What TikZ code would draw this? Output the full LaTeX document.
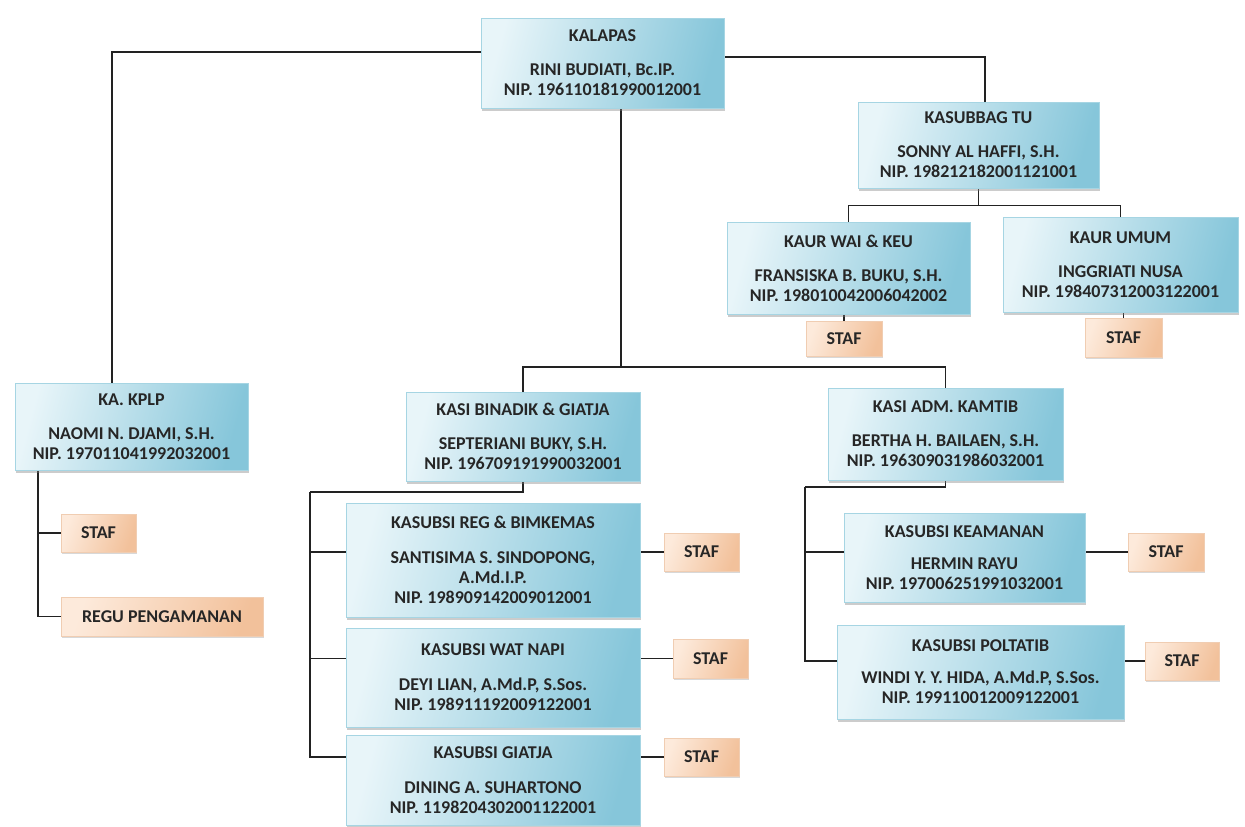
\documentclass[tikz,border=0pt]{standalone}
\usepackage{fontspec}
\setmainfont{Carlito}
\usetikzlibrary{shadows}
\definecolor{blueL}{HTML}{E8F5F9}
\definecolor{blueR}{HTML}{86C6DA}
\definecolor{blueB}{HTML}{A6D5E3}
\definecolor{peachL}{HTML}{FDEADB}
\definecolor{peachR}{HTML}{F2C19B}
\definecolor{peachB}{HTML}{F0CDB2}
\definecolor{txt}{HTML}{262626}
\definecolor{ln}{HTML}{222222}
\pgfdeclarelayer{bg}
\pgfsetlayers{bg,main}
\begin{document}
\begin{tikzpicture}[x=1pt,y=-1pt,
  orgbox/.style={rectangle, draw=blueB, line width=0.6pt, left color=blueL, right color=blueR, shading angle=75,
    align=center, text=txt, font=\fontsize{18}{20}\selectfont\bfseries, inner sep=0pt,
    drop shadow={shadow xshift=1pt, shadow yshift=-2.5pt, opacity=0.4, fill=gray}},
  stafbox/.style={rectangle, draw=peachB, line width=0.6pt, left color=peachL, right color=peachR, shading angle=70,
    align=center, text=txt, font=\fontsize{18}{20}\selectfont\bfseries, inner sep=0pt,
    drop shadow={shadow xshift=1pt, shadow yshift=-2pt, opacity=0.3, fill=gray}},
  conn/.style={draw=ln, line width=1.6pt}]
\useasboundingbox (0,0) rectangle (1245,827);
\begin{pgfonlayer}{bg}
\fill[white] (0,0) rectangle (1245,827);
\end{pgfonlayer}

% top
\node[orgbox, minimum width=243pt, minimum height=90pt] (kal) at (602.5,63) {KALAPAS\\[14pt]RINI BUDIATI, Bc.IP.\\NIP. 196110181990012001};
\node[orgbox, minimum width=241pt, minimum height=86pt] (tu) at (978.5,145) {KASUBBAG TU\\[14pt]SONNY AL HAFFI, S.H.\\NIP. 198212182001121001};
\node[orgbox, minimum width=243pt, minimum height=92pt] (wai) at (848.5,268) {KAUR WAI \& KEU\\[14pt]FRANSISKA B. BUKU, S.H.\\NIP. 198010042006042002};
\node[orgbox, minimum width=235pt, minimum height=95pt] (umum) at (1120.5,264.5) {KAUR UMUM\\[14pt]INGGRIATI NUSA\\NIP. 198407312003122001};
\node[stafbox, minimum width=76pt, minimum height=35pt] (staf1) at (844,338.5) {STAF};
\node[stafbox, minimum width=77pt, minimum height=39pt] (staf2) at (1123.5,337.5) {STAF};

% KPLP
\node[orgbox, minimum width=233pt, minimum height=87pt] (kplp) at (131.5,426.5) {KA. KPLP\\[14pt]NAOMI N. DJAMI, S.H.\\NIP. 197011041992032001};
\node[stafbox, minimum width=75pt, minimum height=38pt] (kstaf) at (98.5,533) {STAF};
\node[stafbox, minimum width=202pt, minimum height=39pt] (regu) at (162,616.5) {REGU PENGAMANAN};

% BINADIK
\node[orgbox, minimum width=234pt, minimum height=89pt] (binadik) at (523,436.5) {KASI BINADIK \& GIATJA\\[14pt]SEPTERIANI BUKY, S.H.\\NIP. 196709191990032001};
\node[orgbox, minimum width=294pt, minimum height=114pt] (reg) at (493,560) {KASUBSI REG \& BIMKEMAS\\[15pt]SANTISIMA S. SINDOPONG,\\A.Md.I.P.\\NIP. 198909142009012001};
\node[orgbox, minimum width=294pt, minimum height=99pt] (wat) at (493,677.5) {KASUBSI WAT NAPI\\[15pt]DEYI LIAN, A.Md.P, S.Sos.\\NIP. 198911192009122001};
\node[orgbox, minimum width=294pt, minimum height=90pt] (giat) at (493,780) {KASUBSI GIATJA\\[15pt]DINING A. SUHARTONO\\NIP. 1198204302001122001};
\node[stafbox, minimum width=75pt, minimum height=38pt] (stafR) at (701.5,552) {STAF};
\node[stafbox, minimum width=75pt, minimum height=39pt] (stafW) at (710.5,658.5) {STAF};
\node[stafbox, minimum width=75pt, minimum height=38pt] (stafG) at (701.5,757) {STAF};

% ADM
\node[orgbox, minimum width=235pt, minimum height=92pt] (adm) at (945.5,434) {KASI ADM. KAMTIB\\[14pt]BERTHA H. BAILAEN, S.H.\\NIP. 196309031986032001};
\node[orgbox, minimum width=241pt, minimum height=89pt] (keam) at (964.5,557.5) {KASUBSI KEAMANAN\\[12pt]HERMIN RAYU\\NIP. 197006251991032001};
\node[orgbox, minimum width=287pt, minimum height=94pt] (polt) at (980.5,672) {KASUBSI POLTATIB\\[12pt]WINDI Y. Y. HIDA, A.Md.P, S.Sos.\\NIP. 199110012009122001};
\node[stafbox, minimum width=76pt, minimum height=38pt] (stafK) at (1166,552) {STAF};
\node[stafbox, minimum width=74pt, minimum height=38pt] (stafP) at (1182,661) {STAF};

\coordinate (hb) at (621,367);
\coordinate (bsp) at (310,492);
\coordinate (asp) at (805,487);
\path (tu.south) ++(0,17) coordinate (tuj);

\begin{pgfonlayer}{bg}
\draw[conn] ([yshift=11pt]kal.west) -| ([xshift=-19.5pt]kplp.north);
\draw[conn] ([yshift=6pt]kal.east) -| ([xshift=6.5pt]tu.north);
\draw[conn] ([xshift=18.5pt]kal.south) -- (hb);
\draw[conn] (binadik.north) |- (hb) -| (adm.north);
\draw[conn] (tu.south) -- (tuj);
\draw[conn] (wai.north) |- (tuj) -| (umum.north);
\draw[conn] (staf1.north) -- (staf1.north |- wai.south);
\draw[conn] (staf2.north) -- (staf2.north |- umum.south);
\draw[conn] ([xshift=23pt]kplp.south west) |- (kstaf.west);
\draw[conn] ([xshift=23pt]kplp.south west) |- (regu.west);
\draw[conn] (binadik.south) |- (bsp);
\draw[conn] (bsp) |- (stafR.west);
\draw[conn] (bsp) |- (stafW.west);
\draw[conn] (bsp) |- (stafG.west);
\draw[conn] (adm.south) |- (asp);
\draw[conn] (asp) |- (stafK.west);
\draw[conn] (asp) |- (stafP.west);
\end{pgfonlayer}
\end{tikzpicture}
\end{document}
